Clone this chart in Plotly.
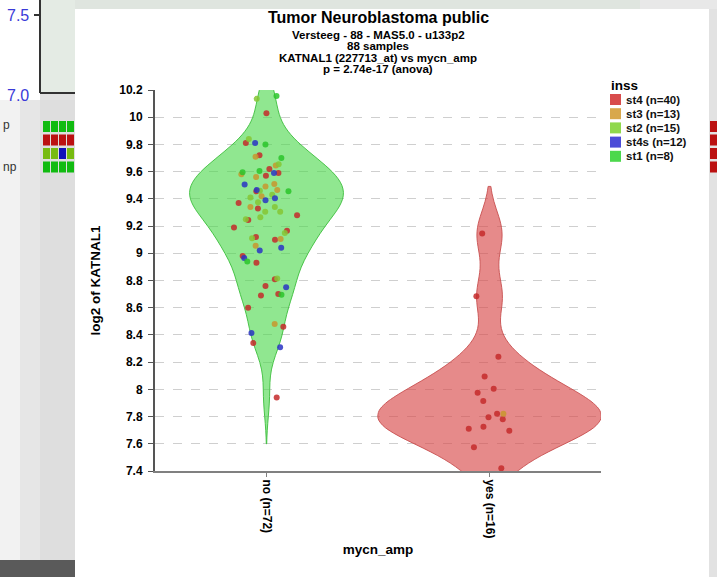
import plotly.graph_objects as go

# ---------------- data ----------------
groups = ["no (n=72)", "yes (n=16)"]
stages = ["st4", "st3", "st2", "st4s", "st1"]
stage_counts = [40, 13, 15, 12, 8]
legend_colors = ["#d84c4c", "#d8a84c", "#90d84c", "#4c4cd8", "#4cd84c"]
point_colors = ["#c42a2a", "#c8962e", "#86c634", "#2a34c4", "#2ac42a"]

no_st4 = [10.03, 9.81, 9.72, 9.62, 9.59, 9.57, 9.455, 9.37, 9.33, 9.28, 9.245, 9.19, 9.165,
          9.12, 9.10, 8.98, 8.93, 8.81, 8.76, 8.70, 8.69, 8.60, 8.46, 8.34, 7.94]
no_st3 = [9.71, 9.645, 9.58, 9.56, 9.51, 9.49, 9.465, 9.42, 9.34, 9.105, 9.055, 8.48]
no_st2 = [10.135, 9.84, 9.655, 9.46, 9.43, 9.41, 9.375, 9.34, 9.305, 9.305, 9.265, 9.25,
          9.15, 9.11, 8.815]
no_st4s = [9.81, 9.59, 9.505, 9.465, 9.405, 9.39, 9.04, 9.02, 8.965, 8.75, 8.415, 8.31]
no_st1 = [10.155, 9.80, 9.70, 9.605, 9.595, 9.455, 8.94, 8.695]
yes_st4 = [9.145, 8.685, 8.24, 8.095, 8.005, 7.975, 7.915, 7.82, 7.795, 7.78, 7.71, 7.725,
           7.695, 7.575, 7.42]
yes_st3 = [7.82]
yes_st2, yes_st4s, yes_st1 = [], [], []

no_by_stage = [no_st4, no_st3, no_st2, no_st4s, no_st1]
yes_by_stage = [yes_st4, yes_st3, yes_st2, yes_st4s, yes_st1]

title_main = "Tumor Neuroblastoma public"
subtitles = ["Versteeg - 88 - MAS5.0 - u133p2", "88 samples",
             "KATNAL1 (227713_at) vs mycn_amp", "p = 2.74e-17 (anova)"]
y_ticks = [7.4 + 0.2 * i for i in range(15)]

# ---------------- geometry helpers ----------------
W, H = 717, 577
X0, X1, Y0, Y1 = 155, 601, 90, 471


def px(x):
    return (x - X0) / (X1 - X0)


def py(y):
    return (Y1 - y) / (Y1 - Y0)


FONT = "Liberation Sans, Arial, sans-serif"

fig = go.Figure()

# violins (kernel density of each group)
violin_specs = [
    (groups[0], sum(no_by_stage, []), "rgba(76,216,76,0.62)", "rgba(60,190,60,0.9)", 0.69, 0.15, 2.27),
    (groups[1], sum(yes_by_stage, []), "rgba(216,76,76,0.65)", "rgba(200,80,80,0.9)", 1.0, 0.165, 2.1),
]
for g, vals, fc, lc, wd, bw, cut in violin_specs:
    fig.add_trace(go.Violin(
        x=[g] * len(vals), y=vals, name=g, scalegroup=g, points=False, fillcolor=fc,
        line=dict(color=lc, width=1), width=wd, bandwidth=bw, spanmode="manual",
        span=[min(vals) - cut * bw, max(vals) + cut * bw],
        scalemode="width", box_visible=False, meanline_visible=False,
        showlegend=False, hoverinfo="skip"))

# jittered points
for g, by_stage, wd in [(groups[0], no_by_stage, 0.31), (groups[1], yes_by_stage, 0.24)]:
    for st, vals, col in zip(stages, by_stage, point_colors):
        if not vals:
            continue
        fig.add_trace(go.Box(
            x=[g] * len(vals), y=vals, name=st, boxpoints="all", jitter=1, pointpos=0,
            width=wd, fillcolor="rgba(0,0,0,0)", line=dict(width=0, color="rgba(0,0,0,0)"),
            whiskerwidth=0, marker=dict(color=col, size=6, opacity=0.85),
            hoveron="points", showlegend=False))

shapes = []
annotations = []


def rect(x0, y0, x1, y1, color, layer="below"):
    shapes.append(dict(type="rect", xref="paper", yref="paper",
                       x0=px(x0), x1=px(x1), y0=py(y1), y1=py(y0),
                       fillcolor=color, line=dict(width=0), layer=layer))


# background (screenshot surroundings)
rect(0, 0, 40, 100, "#ffffff")
rect(40, 0, 75, 93, "#e4ebe4")
rect(75, 0, 640, 9, "#dfe5df")
rect(640, 0, 717, 9, "#e8e8e8")
rect(0, 100, 20, 560, "#f2f2f2")
rect(20, 100, 40, 560, "#e6e6e6")
rect(40, 100, 75, 560, "#dedede")
rect(0, 560, 75, 577, "#5a5a5a")
shapes.append(dict(type="line", xref="paper", yref="paper", x0=px(40), x1=px(40),
                   y0=py(93), y1=py(0), line=dict(color="#333", width=2), layer="below"))
shapes.append(dict(type="line", xref="paper", yref="paper", x0=px(40), x1=px(75),
                   y0=py(93), y1=py(93), line=dict(color="#333", width=2), layer="below"))
shapes.append(dict(type="line", xref="paper", yref="paper", x0=px(34), x1=px(40),
                   y0=py(15), y1=py(15), line=dict(color="#333", width=2), layer="below"))
sq_rows = [["#11bb11"] * 4, ["#bb1111"] * 4, ["#77bb11", "#77bb11", "#1111bb", "#77bb11"],
           ["#11bb11"] * 4]
for r, row in enumerate(sq_rows):
    for c, colr in enumerate(row):
        rect(43 + c * 8, 121 + r * 13.5, 50 + c * 8, 132 + r * 13.5, colr)
    rect(710, 121 + r * 13.5, 717, 132 + r * 13.5, "#bb1111")
for txt, yy in [("7.5", 16), ("7.0", 96)]:
    annotations.append(dict(text=txt, xref="paper", yref="paper", x=px(31), y=py(yy),
                            xanchor="right", yanchor="middle", showarrow=False,
                            font=dict(family=FONT, size=16, color="#3a3ad8")))
for txt, yy in [("p", 125), ("np", 167)]:
    annotations.append(dict(text=txt, xref="paper", yref="paper", x=px(1), y=py(yy),
                            xanchor="left", yanchor="middle", showarrow=False,
                            font=dict(family=FONT, size=12, color="#333")))
# white chart panel
rect(75, 9, 709, 577, "#ffffff")

# titles
annotations.append(dict(text="<b>%s</b>" % title_main, xref="paper", yref="paper",
                        x=0.5, y=py(18), xanchor="center", yanchor="middle",
                        showarrow=False, font=dict(family=FONT, size=16, color="#000")))
for i, s in enumerate(subtitles):
    annotations.append(dict(text="<b>%s</b>" % s, xref="paper", yref="paper",
                            x=0.5, y=py(34.5 + i * 11.6), xanchor="center", yanchor="middle",
                            showarrow=False, font=dict(family=FONT, size=11.5, color="#000")))

# legend (stage colours)
annotations.append(dict(text="<b>inss</b>", xref="paper", yref="paper", x=px(609), y=py(85),
                        xanchor="left", yanchor="middle", showarrow=False,
                        font=dict(family=FONT, size=13.5, color="#000")))
for i, (st, n, colr) in enumerate(zip(stages, stage_counts, legend_colors)):
    yc = 99.5 + i * 14.2
    rect(610, yc - 5.5, 621, yc + 5.5, colr, layer="above")
    annotations.append(dict(text="<b>%s (n=%d)</b>" % (st, n), xref="paper", yref="paper",
                            x=px(624), y=py(yc), xanchor="left", yanchor="middle",
                            showarrow=False, font=dict(family=FONT, size=11.5, color="#111")))

fig.update_layout(
    width=W, height=H,
    margin=dict(l=X0, r=W - X1, t=Y0, b=H - Y1, pad=0),
    paper_bgcolor="#e2e2e2", plot_bgcolor="rgba(0,0,0,0)",
    violinmode="overlay", boxmode="overlay", showlegend=False,
    shapes=shapes, annotations=annotations,
    font=dict(family=FONT, color="#000"),
    xaxis=dict(type="category", categoryorder="array", categoryarray=groups,
               range=[-0.5, 1.5], tickangle=90, showline=True, linecolor="#808080",
               linewidth=2, ticks="outside", ticklen=4, tickcolor="#808080",
               showgrid=False, zeroline=False,
               tickfont=dict(family=FONT, size=12, color="#000", weight="bold"),
               title=dict(text="<b>mycn_amp</b>", standoff=7,
                          font=dict(family=FONT, size=13.5, color="#000"))),
    yaxis=dict(range=[7.4, 10.2], tickvals=y_ticks,
               ticktext=["%g" % round(v, 1) for v in y_ticks],
               showgrid=True, gridcolor="#cfcfcf", griddash="dash", gridwidth=1,
               showline=True, linecolor="#555555", linewidth=2, ticks="outside",
               ticklen=5, tickcolor="#555555", zeroline=False, ticklabelstandoff=3,
               tickfont=dict(family=FONT, size=12, color="#000", weight="bold"),
               title=dict(text="<b>log2 of KATNAL1</b>", standoff=16,
                          font=dict(family=FONT, size=13.5, color="#000"))),
)

fig.write_html("out.html", config={"displayModeBar": False},
               post_script="document.body.style.margin='0';")
